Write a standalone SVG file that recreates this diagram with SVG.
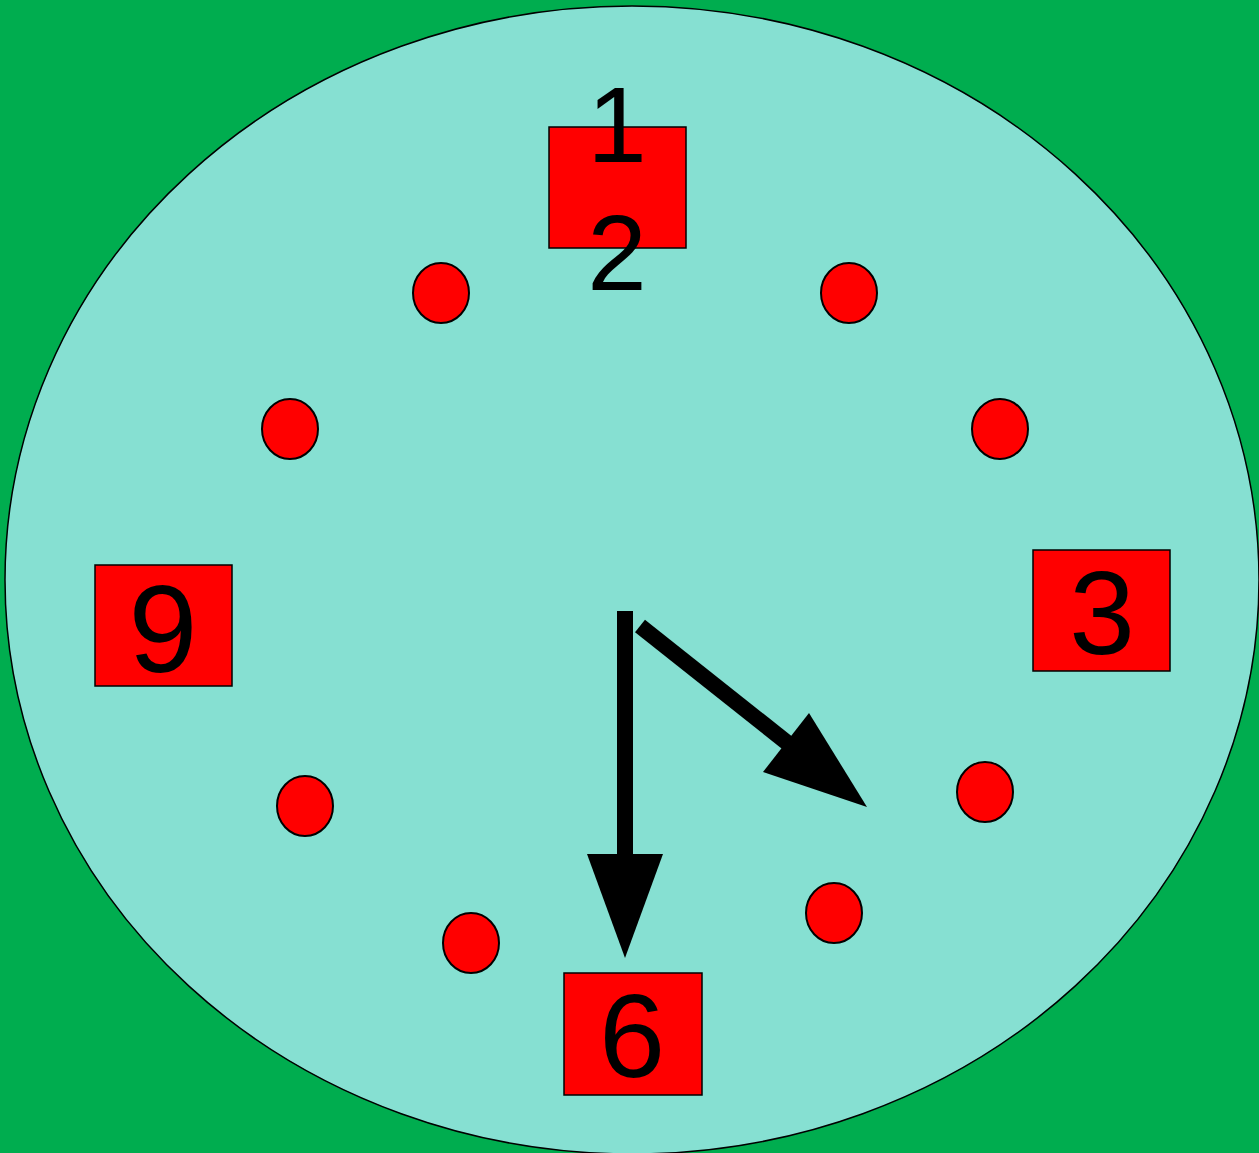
<svg xmlns="http://www.w3.org/2000/svg" width="1259" height="1153" viewBox="0 0 1259 1153">
<style>
.box{fill:#ff0000;stroke:#000;stroke-width:1.5}
.dot{fill:#ff0000;stroke:#000;stroke-width:2}
.num{font-family:"Liberation Sans",Arial,sans-serif;fill:#000;text-anchor:middle}
.hand{fill:#000;stroke:none}
</style>
<rect x="0" y="0" width="1259" height="1153" fill="#00ad4f"/>
<g id="face"><ellipse cx="632" cy="580" rx="627" ry="574" fill="#86e0d2" stroke="#000" stroke-width="1.5"/></g>
<g id="n12"><rect class="box" x="549" y="127" width="137" height="121"/><text class="num" x="617" y="162" font-size="107">1</text><text class="num" x="617" y="290" font-size="107">2</text></g>
<g id="n3"><rect class="box" x="1033" y="550" width="137" height="121"/><text class="num" x="1102" y="654" font-size="118">3</text></g>
<g id="n9"><rect class="box" x="95" y="565" width="137" height="121"/><text class="num" x="163" y="672" font-size="124">9</text></g>
<g id="n6"><rect class="box" x="564" y="973" width="138" height="122"/><text class="num" x="632" y="1077" font-size="119">6</text></g>
<g id="d1"><ellipse class="dot" cx="441" cy="293" rx="28" ry="30"/></g>
<g id="d2"><ellipse class="dot" cx="849" cy="293" rx="28" ry="30"/></g>
<g id="d3"><ellipse class="dot" cx="290" cy="429" rx="28" ry="30"/></g>
<g id="d4"><ellipse class="dot" cx="1000" cy="429" rx="28" ry="30"/></g>
<g id="d5"><ellipse class="dot" cx="305" cy="806" rx="28" ry="30"/></g>
<g id="d6"><ellipse class="dot" cx="985" cy="792" rx="28" ry="30"/></g>
<g id="d7"><ellipse class="dot" cx="471" cy="943" rx="28" ry="30"/></g>
<g id="d8"><ellipse class="dot" cx="834" cy="913" rx="28" ry="30"/></g>
<g id="connectors">
<rect class="hand" x="617" y="611" width="16" height="245"/>
<polygon class="hand" points="587,854 663,854 625,958"/>
<line x1="640" y1="626" x2="790" y2="745" stroke="#000" stroke-width="16"/>
<polygon class="hand" points="763,772 809,713 867,807"/>
</g>
</svg>
